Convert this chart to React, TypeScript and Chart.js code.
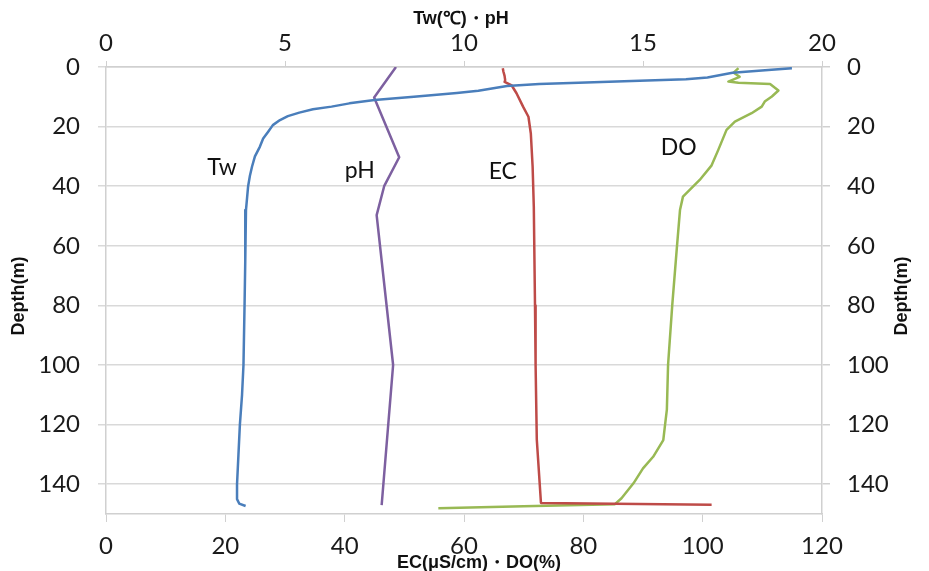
import { useEffect, useRef } from "react";
import { Chart, registerables } from "chart.js";

Chart.register(...registerables);

// ---- Data (depth in m) ----
const depthTickValues = [0, 20, 40, 60, 80, 100, 120, 140];
const topTickValues = [0, 5, 10, 15, 20];
const bottomTickValues = [0, 20, 40, 60, 80, 100, 120];

const twDepth = [0.4, 1.0, 1.9, 3.5, 4.1, 4.6, 5.3, 5.7, 6.4, 8.0, 8.7, 10.0, 11.1, 12.2, 13.3, 14.2, 15.3, 16.5, 17.8, 19.5, 21.7, 24.0, 26.7, 30.0, 33.4, 36.5, 40, 48, 65, 80, 100, 110, 120, 130, 140, 145, 146.5, 147.3];
const twValues = [19.16, 18.5, 17.5, 16.8, 16.2, 14.9, 13.2, 12.1, 11.2, 10.4, 9.8, 8.6, 7.5, 6.8, 6.3, 5.78, 5.4, 5.08, 4.86, 4.66, 4.53, 4.39, 4.3, 4.16, 4.08, 4.02, 3.97, 3.91, 3.89, 3.87, 3.84, 3.8, 3.74, 3.7, 3.66, 3.66, 3.72, 3.9];

const phDepth = [0, 10.2, 30.3, 40, 49.7, 100, 147];
const phValues = [8.1, 7.49, 8.19, 7.77, 7.56, 8.02, 7.7];

const ecDepth = [0.4, 1.5, 3.0, 4.4, 5.0, 5.6, 6.2, 8.8, 13.3, 16.7, 22.3, 33.4, 47, 80, 100, 125, 146.3, 146.9];
const ecValues = [66.5, 66.6, 66.8, 66.9, 66.8, 67.4, 68.0, 68.8, 69.9, 70.8, 71.2, 71.5, 71.7, 71.9, 72.0, 72.2, 72.9, 101.5];

const doDepth = [0.4, 1.9, 3.3, 4.9, 5.3, 5.7, 7.9, 9.9, 11.6, 13.3, 15.5, 18.3, 21.1, 27.9, 33, 37.9, 43.5, 48, 60, 80, 100, 115, 120, 125.2, 130.8, 134.7, 139.7, 144.7, 146.7, 147.4, 148.1];
const doValues = [106.0, 105.2, 106.2, 104.3, 106.0, 111.3, 112.7, 111.6, 110.4, 109.9, 108.2, 105.4, 104.0, 102.6, 101.5, 99.5, 96.7, 96.2, 95.7, 94.9, 94.2, 94.0, 93.7, 93.4, 91.7, 90.0, 88.4, 86.4, 85.3, 70.0, 55.7];

const seriesLabels = ["Tw", "pH", "EC", "DO"];
// label anchor positions in data units: [value, depth]
const labelAnchors = [
  [3.24, 33.6],
  [7.09, 34.6],
  [66.5, 35.0],
  [96.0, 27.0],
];

const topTitle = "Tw(℃)・pH";
const bottomTitle = "EC(μS/cm)・DO(%)";
const depthTitle = "Depth(m)";

const toPoints = (xs: number[], ys: number[]) => xs.map((x, i) => ({ x, y: ys[i] }));

const AXIS_GRAY = "#d0d0d0";
const GRID_GRAY = "#d9d9d9";
const TICK_FONT = { family: "Lato, 'Open Sans', sans-serif", size: 24 };

export default function App() {
  const ref = useRef<HTMLCanvasElement | null>(null);

  useEffect(() => {
    document.body.style.margin = "0";
    const canvas = ref.current;
    if (!canvas) return;

    const textPlugin = {
      id: "customText",
      afterDraw(chart: any) {
        const { ctx, scales } = chart;
        ctx.save();
        ctx.fillStyle = "#111";
        ctx.textAlign = "center";
        ctx.textBaseline = "middle";
        ctx.font = "bold 18px 'Liberation Sans', Arial, sans-serif";
        ctx.fillText(topTitle, 461, 19);
        ctx.fillText(bottomTitle, 479, 563);
        ctx.save();
        ctx.translate(19.5, 296);
        ctx.rotate(-Math.PI / 2);
        ctx.fillText(depthTitle, 0, 0);
        ctx.restore();
        ctx.save();
        ctx.translate(902.5, 296);
        ctx.rotate(-Math.PI / 2);
        ctx.fillText(depthTitle, 0, 0);
        ctx.restore();

        ctx.font = "23px Lato, 'Open Sans', sans-serif";
        ctx.fillStyle = "#111";
        seriesLabels.forEach((lab, i) => {
          const xs = i < 2 ? scales.x2 : scales.x;
          const px = xs.getPixelForValue(labelAnchors[i][0]);
          const py = scales.y.getPixelForValue(labelAnchors[i][1]);
          ctx.fillText(lab, px, py);
        });
        ctx.restore();
      },
    };

    const lineDs = (label: string, pts: any[], color: string, xAxisID: string) => ({
      label,
      data: pts,
      xAxisID,
      yAxisID: "y",
      showLine: true,
      borderColor: color,
      backgroundColor: color,
      borderWidth: 2.5,
      pointRadius: 0,
      pointHoverRadius: 0,
      tension: 0,
      fill: false,
      borderJoinStyle: "round",
    });

    const chart = new Chart(canvas, {
      type: "scatter",
      data: {
        datasets: [
          lineDs("Tw", toPoints(twValues, twDepth), "#4A7EBB", "x2"),
          lineDs("pH", toPoints(phValues, phDepth), "#7D60A0", "x2"),
          lineDs("EC", toPoints(ecValues, ecDepth), "#BE4B48", "x"),
          lineDs("DO", toPoints(doValues, doDepth), "#98B954", "x"),
        ],
      },
      options: {
        animation: false,
        responsive: false,
        devicePixelRatio: 1,
        layout: { padding: 0 },
        plugins: {
          legend: { display: false },
          tooltip: { enabled: false },
          title: { display: false },
        },
        scales: {
          x: {
            type: "linear",
            position: "bottom",
            min: 0,
            max: 120,
            afterBuildTicks: (s: any) => {
              s.ticks = bottomTickValues.map((v) => ({ value: v }));
            },
            afterFit: (s: any) => {
              s.height = 57;
            },
            ticks: { font: TICK_FONT, color: "#1a1a1a", padding: 10, maxRotation: 0, autoSkip: false },
            grid: { drawOnChartArea: false, tickLength: 8, color: AXIS_GRAY },
            border: { display: true, color: AXIS_GRAY, width: 1.5 },
          },
          x2: {
            type: "linear",
            position: "top",
            min: 0,
            max: 20,
            afterBuildTicks: (s: any) => {
              s.ticks = topTickValues.map((v) => ({ value: v }));
            },
            afterFit: (s: any) => {
              s.height = 67;
            },
            ticks: { font: TICK_FONT, color: "#1a1a1a", padding: 3, maxRotation: 0, autoSkip: false },
            grid: { drawOnChartArea: false, tickLength: 6, color: AXIS_GRAY },
            border: { display: true, color: AXIS_GRAY, width: 1.5 },
          },
          y: {
            type: "linear",
            position: "left",
            reverse: true,
            min: 0,
            max: 150,
            afterBuildTicks: (s: any) => {
              s.ticks = depthTickValues.map((v) => ({ value: v }));
            },
            afterFit: (s: any) => {
              s.width = 106;
            },
            ticks: { font: TICK_FONT, color: "#1a1a1a", padding: 18, autoSkip: false },
            grid: { drawOnChartArea: true, tickLength: 8, color: GRID_GRAY, lineWidth: 1.5 },
            border: { display: true, color: AXIS_GRAY, width: 1.5 },
          },
          y2: {
            type: "linear",
            position: "right",
            reverse: true,
            min: 0,
            max: 150,
            afterBuildTicks: (s: any) => {
              s.ticks = depthTickValues.map((v) => ({ value: v }));
            },
            afterFit: (s: any) => {
              s.width = 107;
            },
            ticks: { font: TICK_FONT, color: "#1a1a1a", padding: 17, autoSkip: false },
            grid: { drawOnChartArea: false, tickLength: 8, color: AXIS_GRAY, lineWidth: 1.5 },
            border: { display: true, color: AXIS_GRAY, width: 1.5 },
          },
        },
      },
      plugins: [textPlugin],
    } as any);

    return () => {
      chart.destroy();
    };
  }, []);

  return (
    <canvas
      ref={ref}
      width={929}
      height={571}
      style={{ display: "block", width: "929px", height: "571px" }}
    />
  );
}
